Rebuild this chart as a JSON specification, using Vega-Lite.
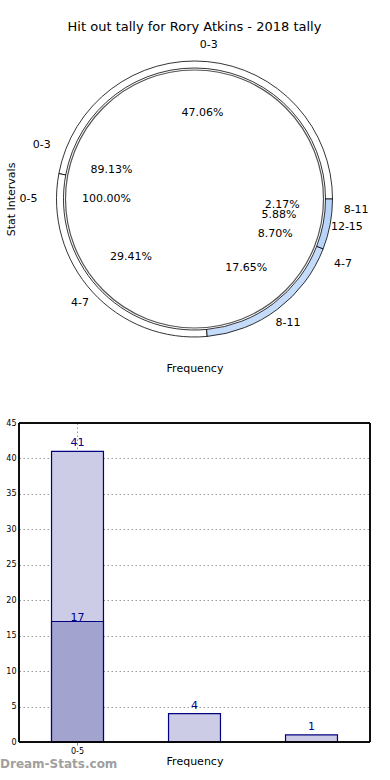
{
  "$schema": "https://vega.github.io/schema/vega-lite/v6.json",
  "padding": {"left": 0, "top": 21, "right": 20, "bottom": 0},
  "background": "white",
  "config": {
    "font": "DejaVu Sans",
    "view": {"stroke": null},
    "title": {"font": "DejaVu Sans", "fontWeight": "normal", "fontSize": 13, "color": "black"},
    "axis": {"titleFont": "DejaVu Sans", "labelFont": "DejaVu Sans", "titleFontWeight": "normal", "titleColor": "black", "labelColor": "black"}
  },
  "datasets": {
    "pie": [
      {"series": "A", "interval": "0-5", "frac": 1.0},
      {"series": "B", "interval": "0-3", "frac": 0.8913},
      {"series": "B", "interval": "4-7", "frac": 0.087},
      {"series": "B", "interval": "8-11", "frac": 0.0217},
      {"series": "C", "interval": "0-3", "frac": 0.4706},
      {"series": "C", "interval": "4-7", "frac": 0.2941},
      {"series": "C", "interval": "8-11", "frac": 0.1765},
      {"series": "C", "interval": "12-15", "frac": 0.0588}
    ],
    "bars": [
      {"bin": "0-5", "group": "all", "count": 41},
      {"bin": "6-10", "group": "all", "count": 4},
      {"bin": "11-15", "group": "all", "count": 1},
      {"bin": "0-5", "group": "sub", "count": 17}
    ]
  },
  "vconcat": [
    {
      "title": {"text": "Hit out tally for Rory Atkins - 2018 tally", "anchor": "middle", "frame": "group", "offset": 0},
      "width": 351,
      "height": 324,
      "data": {"name": "pie"},
      "encoding": {
        "theta": {"field": "frac", "type": "quantitative", "stack": true, "scale": {"domain": [0, 1], "range": [1.5708, -4.7124]}}
      },
      "layer": [
        {
          "mark": {"type": "point", "opacity": 0},
          "encoding": {
            "theta": null,
            "x": {"field": "frac", "type": "quantitative", "title": "Frequency", "axis": {"labels": false, "ticks": false, "domain": false, "grid": false, "titlePadding": 1, "titleFontSize": 11}},
            "y": {"field": "frac", "type": "quantitative", "title": "Stat Intervals", "axis": {"labels": false, "ticks": false, "domain": false, "grid": false, "titlePadding": 3, "titleFontSize": 11}}
          }
        },
        {
          "transform": [{"filter": "datum.series === 'C'"}],
          "mark": {"type": "arc", "radius": 138, "radius2": 131, "stroke": "black", "strokeWidth": 0.8},
          "encoding": {
            "color": {"field": "interval", "type": "nominal", "legend": null, "scale": {"domain": ["0-3", "4-7", "8-11", "12-15"], "range": ["#ffffff", "#ffffff", "#c4dbfa", "#b9d4f9"]}},
            "order": {"field": "frac", "type": "quantitative", "sort": "descending"}
          }
        },
        {
          "transform": [{"filter": "datum.series === 'A'"}],
          "mark": {"type": "arc", "radius": 129, "fill": "white", "stroke": "#555555", "strokeWidth": 1.2}
        },
        {
          "transform": [{"filter": "datum.series === 'A'"}],
          "mark": {"type": "text", "radius": 166, "fontSize": 11, "color": "black"},
          "encoding": {"text": {"field": "interval"}}
        },
        {
          "transform": [{"filter": "datum.series === 'A'"}],
          "mark": {"type": "text", "radius": 88, "fontSize": 11, "color": "black"},
          "encoding": {"text": {"field": "frac", "format": ".2%"}}
        },
        {
          "transform": [{"filter": "datum.series === 'B'"}],
          "mark": {"type": "text", "radius": 162, "fontSize": 11, "color": "black"},
          "encoding": {"text": {"field": "interval"}, "order": {"field": "frac", "type": "quantitative", "sort": "descending"}}
        },
        {
          "transform": [{"filter": "datum.series === 'B'"}],
          "mark": {"type": "text", "radius": 88, "fontSize": 11, "color": "black"},
          "encoding": {"text": {"field": "frac", "format": ".2%"}, "order": {"field": "frac", "type": "quantitative", "sort": "descending"}}
        },
        {
          "transform": [{"filter": "datum.series === 'C'"}],
          "mark": {"type": "text", "radius": 155, "fontSize": 11, "color": "black"},
          "encoding": {"text": {"field": "interval"}, "order": {"field": "frac", "type": "quantitative", "sort": "descending"}}
        },
        {
          "transform": [{"filter": "datum.series === 'C'"}],
          "mark": {"type": "text", "radius": 86, "fontSize": 11, "color": "black"},
          "encoding": {"text": {"field": "frac", "format": ".2%"}, "order": {"field": "frac", "type": "quantitative", "sort": "descending"}}
        }
      ]
    },
    {
      "width": 351,
      "height": 319,
      "data": {"name": "bars"},
      "title": {"text": "Dream-Stats.com", "orient": "bottom", "anchor": "start", "frame": "bounds", "fontSize": 12, "fontWeight": "bold", "color": "#a0a0a0", "offset": -7},
      "encoding": {
        "x": {
          "field": "bin", "type": "nominal", "sort": null, "title": "Frequency",
          "scale": {"domain": ["0-5", "6-10", "11-15"], "paddingInner": 0.556, "paddingOuter": 0.278},
          "axis": {"values": ["0-5"], "labelAngle": 0, "labelFontSize": 8, "labelPadding": 2, "tickSize": 3, "tickColor": "#888", "domain": false, "grid": true, "bandPosition": 0.5, "gridDash": [1.5, 2.5], "gridColor": "#999999", "titleFontSize": 11, "titlePadding": 0}
        },
        "y": {
          "field": "count", "type": "quantitative", "title": null,
          "scale": {"domain": [0, 45], "nice": false},
          "axis": {"values": [0, 5, 10, 15, 20, 25, 30, 35, 40, 45], "labelFontSize": 8, "labelPadding": 3, "ticks": false, "minExtent": 19, "domain": false, "grid": true, "gridDash": [1.5, 2.5], "gridColor": "#999999"}
        }
      },
      "layer": [
        {
          "transform": [{"filter": "datum.group === 'all'"}],
          "mark": {"type": "bar", "fill": "#ccccE6", "stroke": "#000080", "strokeWidth": 1.2}
        },
        {
          "transform": [{"filter": "datum.group === 'sub'"}],
          "mark": {"type": "bar", "fill": "#a3a3cf", "stroke": "#000080", "strokeWidth": 1.2}
        },
        {
          "transform": [{"filter": "datum.group === 'all'"}],
          "mark": {"type": "text", "dy": -8, "fontSize": 11, "color": "#00008b"},
          "encoding": {"text": {"field": "count"}}
        },
        {
          "transform": [{"filter": "datum.group === 'sub'"}],
          "mark": {"type": "text", "dy": -3, "fontSize": 11, "color": "#00008b"},
          "encoding": {"text": {"field": "count"}}
        },
        {
          "mark": {"type": "rect", "fill": null, "stroke": "black", "strokeWidth": 1},
          "encoding": {"x": null, "y": null}
        }
      ]
    }
  ],
  "spacing": 46
}
